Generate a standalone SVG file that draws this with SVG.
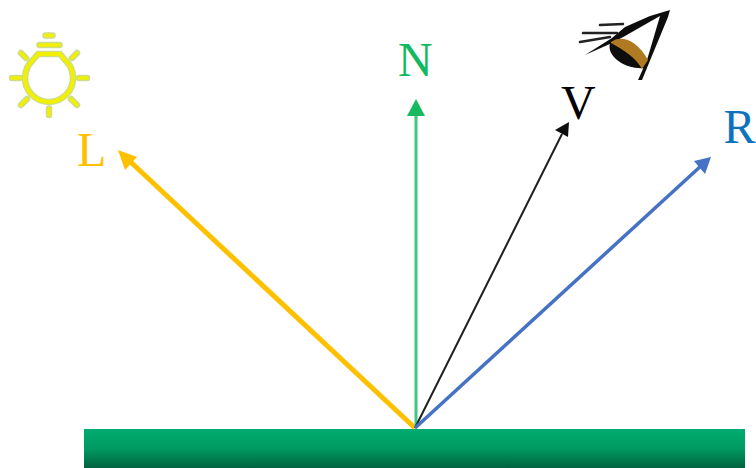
<svg xmlns="http://www.w3.org/2000/svg" width="756" height="468" viewBox="0 0 756 468">
<style>
.lbl{font-family:"Liberation Serif","Times New Roman",serif;font-size:48px}
.bulb{fill:none;stroke:#f0f000;stroke-linecap:round}
.halo{fill:none;stroke:#cfdc8c;stroke-linecap:round}
.lash{fill:none;stroke:#222;stroke-linecap:round}
</style>
<defs>
<linearGradient id="floor" x1="0" y1="0" x2="0" y2="1">
<stop offset="0" stop-color="#00ab6f"/><stop offset="0.5" stop-color="#019a63"/><stop offset="1" stop-color="#02633f"/>
</linearGradient>
<filter id="soft" x="-10%" y="-10%" width="120%" height="120%"><feGaussianBlur stdDeviation="0.7"/></filter>
<filter id="soft2" filterUnits="userSpaceOnUse" x="0" y="0" width="756" height="468"><feGaussianBlur stdDeviation="0.5"/></filter>
</defs>
<rect width="756" height="468" fill="#fff"/>
<g id="surface"><rect x="84" y="429" width="661" height="39" fill="url(#floor)" filter="url(#soft2)"/></g>
<g id="connectors" fill="none" stroke-linecap="butt" filter="url(#soft2)">
<path d="M415 428L128 159.500" stroke="#ffc000" stroke-width="5"/>
<polygon points="118,150 137,157 125,170" fill="#ffc000"/>
<path d="M416 428V114" stroke="#3fc77f" stroke-width="3"/>
<polygon points="416,99 425,116 407,116" fill="#12b95f"/>
<path d="M415 428L562 134" stroke="#1e1e1e" stroke-width="2"/>
<polygon points="569,122 568,137 555,130" fill="#111"/>
<path d="M415 428L702 165" stroke="#4472c4" stroke-width="3.500"/>
<polygon points="711,157 705,174 694,161" fill="#4472c4"/>
</g>
<g id="lightbulb" filter="url(#soft)">
<g class="halo" stroke-width="6.500">
<path d="M38 54H60L65 60A24 24 0 1 1 33 60Z"/>
<path d="M39.500 45H59.500M45.500 35.500H52.500M12 78H20M79 78H87M49 108.500V115M21 53L26 58M72 58L77 53M21 105L27 99M71 99L77 105"/>
</g>
<g class="bulb" stroke-width="4">
<path d="M38 54H60L65 60A24 24 0 1 1 33 60Z"/>
</g>
<g class="bulb" stroke-width="3.500">
<path d="M39.500 45H59.500M45.500 35.500H52.500M12 78H20M79 78H87M49 108.500V115M21 53L26 58M72 58L77 53M21 105L27 99M71 99L77 105"/>
</g>
</g>
<g id="eye" filter="url(#soft)">
<path d="M585 55L612 38L625 27L650 16L670 10L668 17L642 80L638 80L647 60L660 16L625 36L612 43Z" fill="#111"/>
<path d="M610 43C606 58 628 70 645 68L648 60C636 46 622 38 610 43Z" fill="#0b0b0b"/>
<path d="M611 42C620 35 636 38 648 60L642 69C636 58 624 50 611 43Z" fill="#b07a20"/>
<g class="lash" stroke-width="2.500">
<path d="M600 25L623 24M583 33L617 33M580 42L610 37"/>
</g>
</g>
<g id="label-L"><text class="lbl" x="77" y="166" fill="#ffc000">L</text></g>
<g id="label-N"><text class="lbl" x="398" y="76" fill="#12b95f">N</text></g>
<g id="label-V"><text class="lbl" x="561" y="119" fill="#000">V</text></g>
<g id="label-R"><text class="lbl" x="723.500" y="143" fill="#0f72bd">R</text></g>
</svg>
